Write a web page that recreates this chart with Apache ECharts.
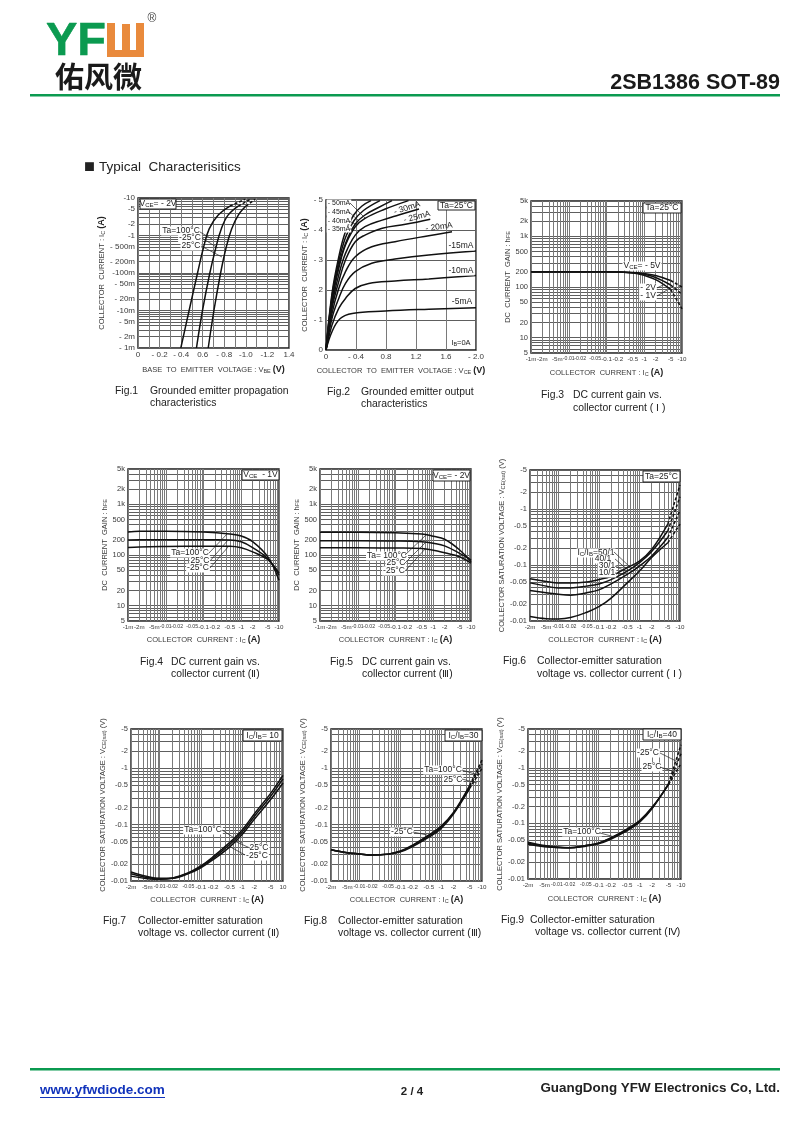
<!DOCTYPE html>
<html><head><meta charset="utf-8">
<style>html,body{margin:0;padding:0;background:#fff}#c{width:800px;height:1130px}</style>
<script src="https://cdn.jsdelivr.net/npm/echarts@6/dist/echarts.min.js"></script>
</head><body><div id="c"></div>
<script>
// ---------- tick values & labels ----------
const gridI = [0.001,0.002,0.003,0.004,0.005,0.006,0.007,0.008,0.009,0.01,0.02,0.03,0.04,0.05,0.06,0.07,0.08,0.09,0.1,0.2,0.3,0.4,0.5,0.6,0.7,0.8,0.9,1,2,3,4,5,6,7,8,9,10];
const gridHfe = [5,6,7,8,9,10,20,30,40,50,60,70,80,90,100,200,300,400,500,600,700,800,900,1000,2000,3000,4000,5000];
const gridV = [0.01,0.02,0.03,0.04,0.05,0.06,0.07,0.08,0.09,0.1,0.2,0.3,0.4,0.5,0.6,0.7,0.8,0.9,1,2,3,4,5];
const gridI2m = gridI.filter(v => v >= 0.002);

const f1XGrid = [0,0.1,0.2,0.3,0.4,0.5,0.6,0.7,0.8,0.9,1,1.1,1.2,1.3,1.4];
const f1XVals = [0,0.2,0.4,0.6,0.8,1,1.2,1.4];
const f1XLabels = ['0','- 0.2','- 0.4','0.6','- 0.8','-1.0','-1.2','1.4'];
const f1YVals = [10,5,2,1,0.5,0.2,0.1,0.05,0.02,0.01,0.005,0.002,0.001];
const f1YLabels = ['-10','-5','-2','-1','- 500m','- 200m','-100m','- 50m','- 20m','-10m','- 5m','- 2m','- 1m'];
const f2XVals = [0,0.4,0.8,1.2,1.6,2];
const f2XLabels = ['0','- 0.4','0.8','1.2','1.6','- 2.0'];
const f2YVals = [0,1,2,3,4,5];
const f2YLabels = ['0','- 1','2','- 3','- 4','- 5'];
const hfeVals = [5,10,20,50,100,200,500,1000,2000,5000];
const hfeLabels = ['5','10','20','50','100','200','500','1k','2k','5k'];
const ic1mVals = [0.001,0.002,0.005,0.01,0.02,0.05,0.1,0.2,0.5,1,2,5,10];
const ic1mLabels = ['-1m','-2m','-5m','-0.01','-0.02','-0.05','-0.1','-0.2','-0.5','-1','-2','-5','-10'];
const ic2mVals = [0.002,0.005,0.01,0.02,0.05,0.1,0.2,0.5,1,2,5,10];
const ic2mLabels = ['-2m','-5m','-0.01','-0.02','-0.05','-0.1','-0.2','-0.5','-1','-2','-5','-10'];
const f7XLabels = ['-2m','-5m','-0.01','-0.02','-0.05','-0.1','-0.2','-0.5','-1','-2','-5','10'];
const satVals = [0.01,0.02,0.05,0.1,0.2,0.5,1,2,5];
const satLabels = ['-0.01','-0.02','-0.05','-0.1','-0.2','-0.5','-1','-2','-5'];

// ---------- Fig.1 ---------- Vbe (x) per temperature, Ic (y)
const f1Ic = [0.001,0.01,0.1,0.45,1.5,3.5,6.1,9.2];
const f1Vbe100 = [0.397,0.474,0.552,0.605,0.66,0.744,0.853,0.992];
const f1Vbe25 = [0.542,0.598,0.666,0.72,0.772,0.835,0.93,1.04];
const f1VbeN25 = [0.651,0.704,0.766,0.815,0.868,0.93,1.0,1.085];

// ---------- Fig.2 ---------- Vce (x), Ic (y) per Ib
const f2X5 = [0,0.08,0.19,0.35,0.79,1.37,2];         const f2Y5 = [0,0.61,1.05,1.22,1.3,1.36,1.41];
const f2X10 = [0,0.08,0.17,0.26,0.39,0.57,0.92,1.37,2]; const f2Y10 = [0,0.83,1.39,1.72,2.05,2.22,2.3,2.37,2.48];
const f2X15 = [0,0.08,0.17,0.26,0.39,0.61,0.92,1.37,2]; const f2Y15 = [0,1.06,1.72,2.22,2.61,2.89,3.03,3.17,3.3];
const f2X20 = [0,0.08,0.17,0.26,0.39,0.61,0.92,1.37,1.68]; const f2Y20 = [0,1.22,2.05,2.61,3.11,3.44,3.61,3.81,3.94];
const f2X25 = [0,0.08,0.17,0.26,0.39,0.52,0.75,1.06,1.39]; const f2Y25 = [0,1.39,2.28,3,3.61,3.83,4.06,4.19,4.36];
const f2X30 = [0,0.08,0.17,0.26,0.39,0.52,0.75,0.97,1.24]; const f2Y30 = [0,1.5,2.5,3.22,3.83,4.11,4.33,4.5,4.7];
const f2X35 = [0,0.08,0.17,0.26,0.39,0.52,0.79,1.1];   const f2Y35 = [0,1.61,2.72,3.5,4.11,4.39,4.7,4.98];
const f2X40 = [0,0.08,0.17,0.26,0.39,0.52,0.7,0.88];   const f2Y40 = [0,1.72,2.8,3.55,4.2,4.5,4.75,4.98];
const f2X45 = [0,0.08,0.17,0.26,0.37,0.5,0.72];        const f2Y45 = [0,1.8,2.95,3.75,4.3,4.65,4.98];
const f2X50 = [0,0.08,0.17,0.26,0.37,0.48,0.6];        const f2Y50 = [0,1.89,3.1,3.95,4.5,4.8,4.98];

// ---------- Fig.3 ----------
const f3X = [0.001,0.01,0.1,0.5,1,2,5,10];
const f3V5 = [200,200,200,195,185,170,135,100];
const f3V2 = [200,200,200,192,178,155,110,72];
const f3V1 = [200,200,200,190,170,140,90,37];

// ---------- Fig.4 / Fig.5 ----------
const f45X = [0.001,0.002,0.01,0.1,0.5,1,2,5,10];
const f4T100 = [285,295,297,285,260,238,185,93,32];
const f4T25 = [199,200,200,200,199,183,141,86,40];
const f4TN25 = [141,145,148,150,150,140,116,82,44];
const f5T100 = [281,281,281,275,260,235,205,126,74];
const f5T25 = [192,192,192,190,183,171,152,108,80];
const f5TN25 = [140,140,140,138,135,125,111,93,69];

// ---------- Fig.6..9 ----------
const satX = [0.002,0.005,0.01,0.02,0.05,0.1,0.2,0.5,1,2,5,10];
const f6R50 = [0.057,0.051,0.048,0.048,0.05,0.055,0.063,0.09,0.118,0.19,0.54,2.7];
const f6R40 = [0.048,0.042,0.039,0.039,0.042,0.046,0.055,0.078,0.11,0.174,0.41,1.66];
const f6R30 = [0.035,0.032,0.03,0.029,0.032,0.036,0.046,0.068,0.096,0.145,0.31,0.95];
const f6R10 = [0.012,0.011,0.0109,0.0115,0.0143,0.018,0.0257,0.048,0.078,0.136,0.25,0.54];
const f7T100 = [0.0122,0.011,0.0107,0.0112,0.014,0.0185,0.027,0.048,0.08,0.155,0.36,0.75];
const f7T25 = [0.0135,0.0115,0.0109,0.0112,0.0138,0.018,0.0255,0.044,0.073,0.14,0.32,0.65];
const f7TN25 = [0.0145,0.012,0.0112,0.0112,0.0135,0.0172,0.024,0.04,0.066,0.125,0.28,0.55];
const f8T100 = [0.036,0.0317,0.0303,0.029,0.03,0.034,0.0435,0.066,0.095,0.165,0.5,1.4];
const f8T25 = [0.036,0.0317,0.0303,0.029,0.03,0.0335,0.0425,0.063,0.09,0.16,0.47,1.2];
const f8TN25 = [0.036,0.0317,0.0303,0.029,0.03,0.033,0.041,0.06,0.086,0.155,0.44,1.0];
const f9T100 = [0.042,0.038,0.037,0.0365,0.04,0.044,0.055,0.08,0.113,0.195,0.5,1.2];
const f9T25 = [0.044,0.039,0.037,0.0365,0.04,0.044,0.054,0.077,0.109,0.19,0.51,1.8];
const f9TN25 = [0.046,0.04,0.0375,0.0365,0.039,0.043,0.052,0.074,0.105,0.185,0.52,2.6];

// ---------- helpers ----------
const FONT = '"Liberation Sans",Arial,sans-serif';
const INK = '#111', GRID_X = '#7a7a7a', GRID_Y = '#5e5e5e', TXT = '#3a3a3a';
const zip = (x, y) => x.map((v, i) => [v, y[i]]);
const nearest = (vals, labels, log) => v => {
  let b = 0, d = Infinity;
  vals.forEach((t, i) => { const e = log ? Math.abs(Math.log10(t) - Math.log10(v)) : Math.abs(t - v); if (e < d) { d = e; b = i; } });
  return labels[b];
};
const rich = { s: { fontSize: 5.5, fontFamily: FONT, color: TXT, verticalAlign: 'bottom' }, b: { fontSize: 9, fontWeight: 'bold', fontFamily: FONT, color: '#222' } };
const IC_NAME = 'COLLECTOR  CURRENT : I{s|C} {b|(A)}';
const HFE_NAME = 'DC  CURRENT  GAIN : h{s|FE}';
const SAT_NAME = 'COLLECTOR SATURATION VOLTAGE : V{s|CE(sat)} (V)';

function axis(kind, o) {
  const isLog = o.log;
  const base = nearest(o.vals, o.labels, isLog);
  return {
    type: isLog ? 'log' : 'value', logBase: 10, min: o.min, max: o.max, gridIndex: o.g,
    name: o.name, nameLocation: 'middle', nameGap: o.gap, nameTextStyle: { fontSize: 7.5, color: TXT, fontFamily: FONT, rich },
    axisLine: { show: false }, axisTick: { show: false, customValues: o.grid },
    axisLabel: { show: true, customValues: o.vals, fontSize: o.fs || 7.5, color: TXT, fontFamily: FONT, margin: 3, hideOverlap: false, showMinLabel: true, showMaxLabel: true,
      formatter: v => { const t = base(v); return (kind === 'x' && isLog && t.length >= 5) ? `{t|${t}}` : t; },
      rich: { t: { fontSize: 5.2, fontFamily: FONT, color: TXT } } },
    splitLine: { show: true, lineStyle: { color: kind === 'x' ? GRID_X : GRID_Y, width: 1 } },
    minorTick: { show: false }, minorSplitLine: { show: false }, z: 1
  };
}
const curve = (g, name, data, dashFrom) => {
  const base = { type: 'line', name, xAxisIndex: g, yAxisIndex: g, showSymbol: false, symbol: 'none', smooth: 0.4, animation: false, silent: true, z: 6 };
  if (dashFrom == null) return [Object.assign({}, base, { data, lineStyle: { color: INK, width: 1.5 } })];
  return [
    Object.assign({}, base, { data: data.slice(0, dashFrom + 1), lineStyle: { color: INK, width: 1.5 } }),
    Object.assign({}, base, { data: data.slice(dashFrom), smooth: 0, lineStyle: { color: INK, width: 1.5, type: [3, 2] } })
  ];
};

const figs = [
 { l:138,t:198,w:151,h:150,
   x:{min:0,max:1.4,grid:f1XGrid,vals:f1XVals,labels:f1XLabels,name:'BASE  TO  EMITTER  VOLTAGE : V{s|BE} {b|(V)}',gap:17,fs:8},
   y:{log:true,min:0.001,max:10,grid:gridI,vals:f1YVals,labels:f1YLabels,name:IC_NAME,gap:22,fs:8},
   s:[['100',zip(f1Vbe100,f1Ic),6],['25',zip(f1Vbe25,f1Ic),6],['-25',zip(f1VbeN25,f1Ic),6]] },
 { l:326,t:200,w:150,h:150,
   x:{min:0,max:2,grid:f2XVals,vals:f2XVals,labels:f2XLabels,name:'COLLECTOR  TO  EMITTER  VOLTAGE : V{s|CE} {b|(V)}',gap:16,fs:8},
   y:{min:0,max:5,grid:f2YVals,vals:f2YVals,labels:f2YLabels,name:IC_NAME,gap:17,fs:8},
   s:[['5',zip(f2X5,f2Y5)],['10',zip(f2X10,f2Y10)],['15',zip(f2X15,f2Y15)],['20',zip(f2X20,f2Y20)],['25',zip(f2X25,f2Y25)],['30',zip(f2X30,f2Y30)],['35',zip(f2X35,f2Y35)],['40',zip(f2X40,f2Y40)],['45',zip(f2X45,f2Y45)],['50',zip(f2X50,f2Y50)]] },
 { l:531,t:201,w:151,h:152,
   x:{log:true,min:0.001,max:10,grid:gridI,vals:ic1mVals,labels:ic1mLabels,name:IC_NAME,gap:15,fs:6.2},
   y:{log:true,min:5,max:5000,grid:gridHfe,vals:hfeVals,labels:hfeLabels,name:HFE_NAME,gap:17},
   s:[['5V',zip(f3X,f3V5),6],['2V',zip(f3X,f3V2),6],['1V',zip(f3X,f3V1),6]] },
 { l:128,t:469,w:151,h:152,
   x:{log:true,min:0.001,max:10,grid:gridI,vals:ic1mVals,labels:ic1mLabels,name:IC_NAME,gap:14,fs:6.2},
   y:{log:true,min:5,max:5000,grid:gridHfe,vals:hfeVals,labels:hfeLabels,name:HFE_NAME,gap:16},
   s:[['100',zip(f45X,f4T100)],['25',zip(f45X,f4T25)],['-25',zip(f45X,f4TN25)]] },
 { l:320,t:469,w:151,h:152,
   x:{log:true,min:0.001,max:10,grid:gridI,vals:ic1mVals,labels:ic1mLabels,name:IC_NAME,gap:14,fs:6.2},
   y:{log:true,min:5,max:5000,grid:gridHfe,vals:hfeVals,labels:hfeLabels,name:HFE_NAME,gap:17},
   s:[['100',zip(f45X,f5T100)],['25',zip(f45X,f5T25)],['-25',zip(f45X,f5TN25)]] },
 { l:530,t:470,w:150,h:151,
   x:{log:true,min:0.002,max:10,grid:gridI2m,vals:ic2mVals,labels:ic2mLabels,name:IC_NAME,gap:14,fs:6.2},
   y:{log:true,min:0.01,max:5,grid:gridV,vals:satVals,labels:satLabels,name:SAT_NAME,gap:18},
   s:[['50',zip(satX,f6R50),10],['40',zip(satX,f6R40),10],['30',zip(satX,f6R30),10],['10',zip(satX,f6R10),10]] },
 { l:131,t:729,w:152,h:152,
   x:{log:true,min:0.002,max:10,grid:gridI2m,vals:ic2mVals,labels:f7XLabels,name:IC_NAME,gap:14,fs:6.2},
   y:{log:true,min:0.01,max:5,grid:gridV,vals:satVals,labels:satLabels,name:SAT_NAME,gap:19},
   s:[['100',zip(satX,f7T100)],['25',zip(satX,f7T25)],['-25',zip(satX,f7TN25)]] },
 { l:331,t:729,w:151,h:152,
   x:{log:true,min:0.002,max:10,grid:gridI2m,vals:ic2mVals,labels:ic2mLabels,name:IC_NAME,gap:14,fs:6.2},
   y:{log:true,min:0.01,max:5,grid:gridV,vals:satVals,labels:satLabels,name:SAT_NAME,gap:20},
   s:[['100',zip(satX,f8T100),10],['25',zip(satX,f8T25),10],['-25',zip(satX,f8TN25),10]] },
 { l:528,t:729,w:153,h:150,
   x:{log:true,min:0.002,max:10,grid:gridI2m,vals:ic2mVals,labels:ic2mLabels,name:IC_NAME,gap:15,fs:6.2},
   y:{log:true,min:0.01,max:5,grid:gridV,vals:satVals,labels:satLabels,name:SAT_NAME,gap:20},
   s:[['100',zip(satX,f9T100),10],['25',zip(satX,f9T25),10],['-25',zip(satX,f9TN25),10]] }
];

const grid = [], xAxis = [], yAxis = [], series = [];
figs.forEach((f, g) => {
  grid.push({ left: f.l, top: f.t, width: f.w, height: f.h, show: true, backgroundColor: '#fff', borderColor: '#1a1a1a', borderWidth: 1.4, z: 0 });
  xAxis.push(axis('x', Object.assign({ g }, f.x)));
  yAxis.push(axis('y', Object.assign({ g }, f.y)));
  f.s.forEach(s => curve(g, s[0], s[1], s[2]).forEach(x => series.push(x)));
});

// ---------- page furniture & annotations ----------
const G = [];
const rect = (x, y, w, h, fill) => G.push({ type: 'rect', shape: { x, y, width: w, height: h }, style: { fill }, z: 10 });
const txt = (text, x, y, o) => { o = o || {}; G.push({ type: 'text', x, y, rotation: o.rot ? o.rot * Math.PI / 180 : 0, z: o.z || 10, style: { text, fill: o.c || '#111', font: `${o.w || 'normal'} ${o.s || 11}px ${o.f || FONT}`, align: o.a || 'left', verticalAlign: 'middle', backgroundColor: o.bg, padding: o.bg ? [0, 1] : 0, stroke: o.st ? (o.c || '#111') : null, lineWidth: o.st || 0, rich: { s: { fontSize: (o.s || 8) * 0.72, fill: o.c || TXT, fontFamily: FONT, verticalAlign: 'bottom' } } } }); };
const ann = (text, x, y, o) => txt(text, x, y, Object.assign({ s: 8.5, a: 'center', c: '#222', bg: '#fff', z: 8 }, o || {}));
const box = (text, x1, y1, x2, y2) => {
  G.push({ type: 'rect', z: 8, shape: { x: x1, y: y1, width: x2 - x1, height: y2 - y1 }, style: { fill: '#fff', stroke: '#222', lineWidth: 1 } });
  txt(text, (x1 + x2) / 2, (y1 + y2) / 2, { s: 8.5, a: 'center', c: '#222', z: 9 });
};
const lead = (x1, y1, x2, y2) => G.push({ type: 'line', z: 9, shape: { x1, y1, x2, y2 }, style: { stroke: '#222', lineWidth: 0.7 } });

// logo
txt('YF', 46, 42, { s: 47, w: 'bold', c: '#0b9a50', st: 0.5 });
rect(107, 23, 8, 34, '#e98a3c'); rect(122, 24, 8, 27, '#e98a3c'); rect(136, 23, 8, 34, '#e98a3c'); rect(107, 50, 37, 7, '#e98a3c');
txt('佑风微', 55, 77, { s: 29, w: 'bold', f: '"Noto Sans CJK SC"', c: '#1a1a1a' });
txt('®', 152, 19, { s: 12, a: 'center', c: '#444' });
txt('2SB1386 SOT-89', 780, 83, { s: 21.5, w: 'bold', a: 'right', c: '#1a1a1a' });
rect(30, 94, 750, 2.5, '#0b9a50');
txt('■', 84, 167, { s: 11, f: '"Noto Sans CJK SC"', c: '#222' });
txt('Typical  Characterisitics', 99, 167, { s: 13.5, c: '#222' });
rect(30, 1068, 750, 2.5, '#0b9a50');
txt('www.yfwdiode.com', 40, 1090, { s: 13.5, w: 'bold', c: '#1133bb' });
rect(40, 1097, 125, 1, '#1133bb');
txt('2 / 4', 412, 1092, { s: 11.5, w: 'bold', a: 'center', c: '#222' });
txt('GuangDong YFW Electronics Co, Ltd.', 780, 1088, { s: 13.4, w: 'bold', a: 'right', c: '#222' });

// captions
const CAP = { s: 10.4, c: '#222' };
[['Fig.1',115,391],['Grounded emitter propagation',150,391],['characteristics',150,403],
 ['Fig.2',327,392],['Grounded emitter output',361,392],['characteristics',361,404],
 ['Fig.3',541,395],['DC current gain vs.',573,395],['collector current ( Ⅰ )',573,408],
 ['Fig.4',140,662],['DC current gain vs.',171,662],['collector current (Ⅱ)',171,674],
 ['Fig.5',330,662],['DC current gain vs.',362,662],['collector current (Ⅲ)',362,674],
 ['Fig.6',503,661],['Collector-emitter saturation',537,661],['voltage vs. collector current ( Ⅰ )',537,674],
 ['Fig.7',103,921],['Collector-emitter saturation',138,921],['voltage vs. collector current (Ⅱ)',138,933],
 ['Fig.8',304,921],['Collector-emitter saturation',338,921],['voltage vs. collector current (Ⅲ)',338,933],
 ['Fig.9',501,920],['Collector-emitter saturation',530,920],['voltage vs. collector current (Ⅳ)',535,932]
].forEach(c => txt(c[0], c[1], c[2], CAP));

// Fig.1
box('V{s|CE}= - 2V', 140, 199, 176, 209);
ann('Ta=100°C', 181, 231); ann('-25°C', 190, 238); ann('25°C', 191, 246);
lead(200,232,212,239); lead(202,238,218,248); lead(201,246,222,257);
// Fig.2
box('Ta=25°C', 438, 201, 475, 210);
ann('I{s|B}=0A', 461, 343, { s: 7.5 });
ann('- 50mA', 339, 203, { s: 7 }); ann('- 45mA', 339, 212, { s: 7 }); ann('- 40mA', 339, 221, { s: 7 }); ann('- 35mA', 339, 229, { s: 7 });
lead(350,203,365,218); lead(349,212,358,220); lead(349,221,355,224); lead(349,229,353,229);
ann('- 30mA', 407, 208, { rot: 18, bg: null }); ann('- 25mA', 417, 217, { rot: 14, bg: null }); ann('- 20mA', 439, 227, { rot: 8, bg: null });
ann('-15mA', 461, 246); ann('-10mA', 461, 271); ann('-5mA', 462, 302);
// Fig.3
box('Ta=25°C', 643, 203, 681, 213);
ann('V{s|CE}= - 5V', 642, 266); ann('- 2V', 648, 288); ann('- 1V', 648, 296);
lead(657,288,665,284); lead(657,296,667,290);
// Fig.4
box('V{s|CE}  - 1V', 242, 470, 279, 480);
ann('Ta=100°C', 190, 553); ann('25°C', 200, 561); ann('-25°C', 198, 568);
lead(209,553,228,533); lead(210,561,228,540); lead(210,568,228,547);
// Fig.5
box('V{s|CE}= - 2V', 433, 470, 470, 481);
ann('Ta= 100°C', 387, 556); ann('25°C', 396, 563); ann('-25°C', 394, 571);
lead(405,555,426,535); lead(405,563,426,542); lead(405,571,426,548);
// Fig.6
box('Ta=25°C', 643, 471, 680, 482);
ann('I{s|C}/I{s|B}=50/1', 596, 553); ann('40/1', 603, 559); ann('30/1', 607, 566); ann('10/1', 607, 573);
lead(614,552,630,567); lead(615,559,628,570); lead(615,566,627,572); lead(615,573,625,575);
// Fig.7
box('I{s|C}/I{s|B}= 10', 243, 730, 282, 741);
ann('Ta=100°C', 203, 830); ann('25°C', 259, 848); ann('-25°C', 257, 856);
lead(222,830,242,843); lead(250,848,232,840); lead(245,855,227,845);
// Fig.8
box('I{s|C}/I{s|B}=30', 445, 730, 482, 741);
ann('Ta=100°C', 443, 770); ann('25°C', 453, 780); ann('-25°C', 402, 832);
lead(462,770,478,775); lead(462,779,477,783); lead(413,832,427,835);
// Fig.9
box('I{s|C}/I{s|B}=40', 643, 729, 681, 740);
ann('-25°C', 648, 753); ann('25°C', 652, 767); ann('Ta=100°C', 582, 832);
lead(660,753,678,762); lead(660,767,675,772); lead(600,833,615,837);

const chart = echarts.init(document.getElementById('c'), null, { renderer: 'canvas', width: 800, height: 1130 });
chart.setOption({ animation: false, backgroundColor: '#fff', grid, xAxis, yAxis, series, graphic: { elements: G } });
</script></body></html>
